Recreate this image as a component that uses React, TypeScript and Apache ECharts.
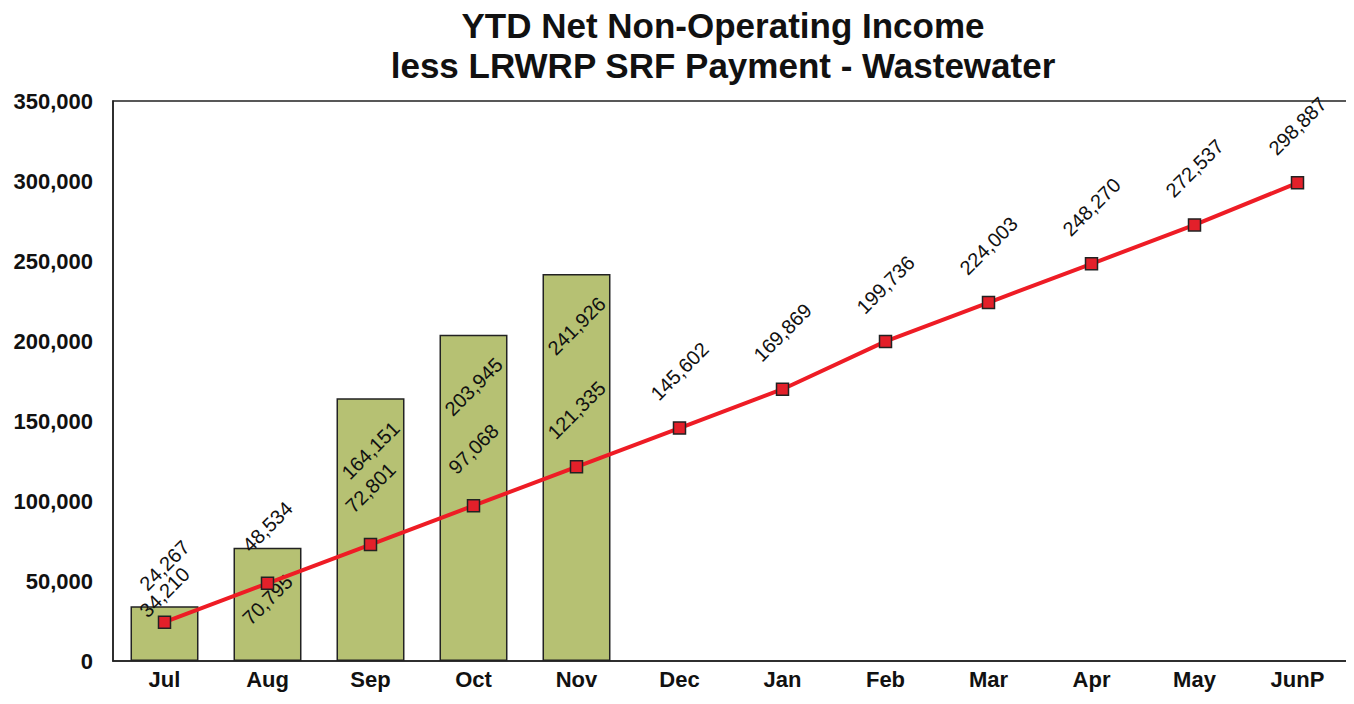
import React, { useEffect, useRef } from "react";
import * as echarts from "echarts";

const categories = ["Jul", "Aug", "Sep", "Oct", "Nov", "Dec", "Jan", "Feb", "Mar", "Apr", "May", "JunP"];
const barValues = [34210, 70795, 164151, 203945, 241926];
const lineValues = [24267, 48534, 72801, 97068, 121335, 145602, 169869, 199736, 224003, 248270, 272537, 298887];
const titleLines = ["YTD Net Non-Operating Income", "less LRWRP SRF Payment - Wastewater"];

const FONT = "'Liberation Sans', Arial, sans-serif";
const fmt = (v: number) => v.toLocaleString("en-US");

export default function App() {
  const ref = useRef<HTMLDivElement>(null);
  useEffect(() => {
    if (!ref.current) return;
    const chart = echarts.init(ref.current, null, { renderer: "svg" });
    const barLabel = {
      show: true,
      position: "insideTop",
      distance: 52,
      rotate: 45,
      align: "center",
      verticalAlign: "middle",
      fontFamily: FONT,
      fontSize: 20,
      color: "#111",
      formatter: (p: any) => fmt(p.value),
    };
    chart.setOption({
      animation: false,
      backgroundColor: "#fff",
      title: {
        text: titleLines.join("\n"),
        left: 718,
        top: 0,
        textAlign: "center",
        textStyle: { fontFamily: FONT, fontSize: 35, fontWeight: "bold", color: "#111", lineHeight: 40 },
      },
      grid: {
        left: 113,
        right: 5,
        top: 101,
        bottom: 43,
        show: true,
        borderColor: "#222",
        borderWidth: 1.5,
        containLabel: false,
      },
      xAxis: {
        type: "category",
        data: categories,
        axisLine: { show: true, lineStyle: { color: "#222", width: 1.5 } },
        axisTick: { show: false },
        axisLabel: { fontFamily: FONT, fontSize: 22, fontWeight: "bold", color: "#111", margin: 7 },
      },
      yAxis: {
        type: "value",
        min: 0,
        max: 350000,
        interval: 50000,
        axisLine: { show: true, lineStyle: { color: "#222", width: 1.5 } },
        axisTick: { show: false },
        splitLine: { show: false },
        axisLabel: {
          fontFamily: FONT,
          fontSize: 22,
          fontWeight: "bold",
          color: "#111",
          margin: 20,
          formatter: (v: number) => fmt(v),
        },
      },
      series: [
        {
          type: "bar",
          data: barValues.map((v, i) =>
            i === 0 ? { value: v, label: { position: "top", distance: 14 } } : v
          ),
          barWidth: "66%",
          itemStyle: { color: "#b6c173", borderColor: "#222", borderWidth: 1.5 },
          label: barLabel,
          z: 2,
        },
        {
          type: "line",
          data: lineValues,
          symbol: "rect",
          symbolSize: 12,
          lineStyle: { color: "#ee1c25", width: 4 },
          itemStyle: { color: "#e3202a", borderColor: "#222", borderWidth: 1.5 },
          label: {
            show: true,
            position: "top",
            distance: 50,
            rotate: 45,
            align: "center",
            verticalAlign: "middle",
            fontFamily: FONT,
            fontSize: 20,
            color: "#111",
            formatter: (p: any) => fmt(p.value),
          },
          z: 3,
        },
      ],
    });
    return () => chart.dispose();
  }, []);
  return <div ref={ref} style={{ width: 1354, height: 704, margin: -8 }} />;
}
